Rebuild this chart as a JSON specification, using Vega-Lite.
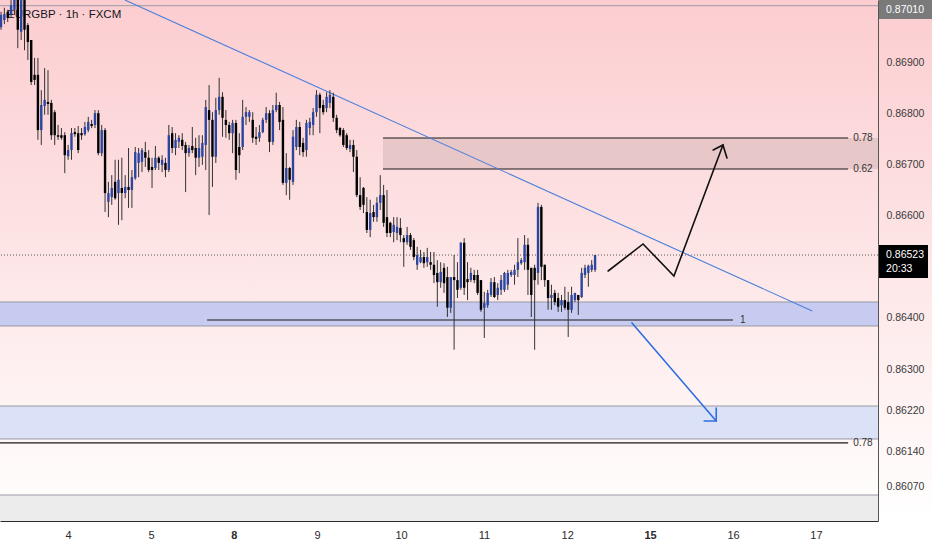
{
  "$schema": "https://vega.github.io/schema/vega-lite/v6.json",
  "width": 878,
  "height": 521,
  "autosize": {"type": "none"},
  "padding": {"left": 0, "top": 0, "right": 54, "bottom": 29},
  "background": "#ffffff",
  "config": {"view": {"stroke": null}, "font": "Liberation Sans"},
  "resolve": {"axis": {"x": "independent", "y": "independent"}},
  "datasets": {
    "candles": [
      {"i":0,"o":0.86968,"h":0.86998,"l":0.86963,"c":0.86992},
      {"i":1,"o":0.86982,"h":0.87006,"l":0.86974,"c":0.86994},
      {"i":2,"o":0.86998,"h":0.87002,"l":0.86978,"c":0.86986},
      {"i":3,"o":0.86992,"h":0.87021,"l":0.86986,"c":0.87011},
      {"i":4,"o":0.87002,"h":0.87041,"l":0.86992,"c":0.87031},
      {"i":5,"o":0.87031,"h":0.87041,"l":0.86927,"c":0.86963},
      {"i":6,"o":0.86959,"h":0.87031,"l":0.86943,"c":0.87021},
      {"i":7,"o":0.87021,"h":0.87031,"l":0.86923,"c":0.86963},
      {"i":8,"o":0.86972,"h":0.86976,"l":0.86904,"c":0.86939},
      {"i":9,"o":0.86943,"h":0.86943,"l":0.86855,"c":0.86861},
      {"i":10,"o":0.86875,"h":0.86908,"l":0.86855,"c":0.86865},
      {"i":11,"o":0.86875,"h":0.86908,"l":0.86748,"c":0.86767},
      {"i":12,"o":0.86767,"h":0.86845,"l":0.86738,"c":0.86816},
      {"i":13,"o":0.86814,"h":0.86888,"l":0.86797,"c":0.86826},
      {"i":14,"o":0.86822,"h":0.86884,"l":0.86797,"c":0.86818},
      {"i":15,"o":0.86820,"h":0.86826,"l":0.86748,"c":0.86757},
      {"i":16,"o":0.86802,"h":0.86806,"l":0.86738,"c":0.86757},
      {"i":17,"o":0.86757,"h":0.86777,"l":0.86748,"c":0.86754},
      {"i":18,"o":0.86757,"h":0.86771,"l":0.86748,"c":0.86752},
      {"i":19,"o":0.86757,"h":0.86763,"l":0.86683,"c":0.86718},
      {"i":20,"o":0.86716,"h":0.86738,"l":0.86709,"c":0.86728},
      {"i":21,"o":0.86728,"h":0.86771,"l":0.86709,"c":0.86761},
      {"i":22,"o":0.86763,"h":0.86771,"l":0.86754,"c":0.86759},
      {"i":23,"o":0.86761,"h":0.86775,"l":0.86722,"c":0.86728},
      {"i":24,"o":0.86761,"h":0.86771,"l":0.86748,"c":0.86757},
      {"i":25,"o":0.86759,"h":0.86783,"l":0.86756,"c":0.86773},
      {"i":26,"o":0.86767,"h":0.86793,"l":0.86763,"c":0.86783},
      {"i":27,"o":0.86779,"h":0.86787,"l":0.86771,"c":0.86775},
      {"i":28,"o":0.86777,"h":0.86806,"l":0.86771,"c":0.86800},
      {"i":29,"o":0.86800,"h":0.86806,"l":0.86718,"c":0.86722},
      {"i":30,"o":0.86722,"h":0.86777,"l":0.86716,"c":0.86767},
      {"i":31,"o":0.86767,"h":0.86771,"l":0.86607,"c":0.86644},
      {"i":32,"o":0.86627,"h":0.86666,"l":0.86597,"c":0.86644},
      {"i":33,"o":0.86636,"h":0.86679,"l":0.86621,"c":0.86654},
      {"i":34,"o":0.86666,"h":0.86709,"l":0.86631,"c":0.86634},
      {"i":35,"o":0.86644,"h":0.86709,"l":0.86582,"c":0.86670},
      {"i":36,"o":0.86654,"h":0.86713,"l":0.86591,"c":0.86644},
      {"i":37,"o":0.86644,"h":0.86679,"l":0.86634,"c":0.86656},
      {"i":38,"o":0.86656,"h":0.86732,"l":0.86615,"c":0.86650},
      {"i":39,"o":0.86650,"h":0.86689,"l":0.86615,"c":0.86675},
      {"i":40,"o":0.86673,"h":0.86734,"l":0.86670,"c":0.86724},
      {"i":41,"o":0.86703,"h":0.86732,"l":0.86675,"c":0.86722},
      {"i":42,"o":0.86705,"h":0.86732,"l":0.86685,"c":0.86728},
      {"i":43,"o":0.86724,"h":0.86744,"l":0.86695,"c":0.86713},
      {"i":44,"o":0.86713,"h":0.86728,"l":0.86685,"c":0.86689},
      {"i":45,"o":0.86695,"h":0.86713,"l":0.86654,"c":0.86689},
      {"i":46,"o":0.86693,"h":0.86736,"l":0.86689,"c":0.86713},
      {"i":47,"o":0.86713,"h":0.86716,"l":0.86689,"c":0.86703},
      {"i":48,"o":0.86699,"h":0.86718,"l":0.86685,"c":0.86709},
      {"i":49,"o":0.86703,"h":0.86713,"l":0.86675,"c":0.86689},
      {"i":50,"o":0.86689,"h":0.86777,"l":0.86685,"c":0.86757},
      {"i":51,"o":0.86761,"h":0.86773,"l":0.86722,"c":0.86732},
      {"i":52,"o":0.86732,"h":0.86761,"l":0.86718,"c":0.86748},
      {"i":53,"o":0.86744,"h":0.86757,"l":0.86732,"c":0.86752},
      {"i":54,"o":0.86748,"h":0.86761,"l":0.86728,"c":0.86736},
      {"i":55,"o":0.86738,"h":0.86744,"l":0.86646,"c":0.86722},
      {"i":56,"o":0.86722,"h":0.86738,"l":0.86715,"c":0.86732},
      {"i":57,"o":0.86736,"h":0.86773,"l":0.86722,"c":0.86728},
      {"i":58,"o":0.86732,"h":0.86752,"l":0.86679,"c":0.86713},
      {"i":59,"o":0.86713,"h":0.86757,"l":0.86695,"c":0.86732},
      {"i":60,"o":0.86715,"h":0.86757,"l":0.86699,"c":0.86742},
      {"i":61,"o":0.86738,"h":0.86826,"l":0.86689,"c":0.86812},
      {"i":62,"o":0.86806,"h":0.86855,"l":0.86601,"c":0.86787},
      {"i":63,"o":0.86787,"h":0.86802,"l":0.86656,"c":0.86715},
      {"i":64,"o":0.86715,"h":0.86830,"l":0.86703,"c":0.86806},
      {"i":65,"o":0.86806,"h":0.86869,"l":0.86797,"c":0.86832},
      {"i":66,"o":0.86832,"h":0.86841,"l":0.86754,"c":0.86791},
      {"i":67,"o":0.86787,"h":0.86806,"l":0.86752,"c":0.86777},
      {"i":68,"o":0.86777,"h":0.86783,"l":0.86748,"c":0.86761},
      {"i":69,"o":0.86761,"h":0.86787,"l":0.86722,"c":0.86781},
      {"i":70,"o":0.86781,"h":0.86787,"l":0.86670,"c":0.86689},
      {"i":71,"o":0.86734,"h":0.86761,"l":0.86683,"c":0.86718},
      {"i":72,"o":0.86734,"h":0.86826,"l":0.86728,"c":0.86793},
      {"i":73,"o":0.86793,"h":0.86812,"l":0.86777,"c":0.86802},
      {"i":74,"o":0.86793,"h":0.86806,"l":0.86783,"c":0.86802},
      {"i":75,"o":0.86787,"h":0.86802,"l":0.86742,"c":0.86752},
      {"i":76,"o":0.86754,"h":0.86773,"l":0.86738,"c":0.86750},
      {"i":77,"o":0.86752,"h":0.86777,"l":0.86744,"c":0.86763},
      {"i":78,"o":0.86763,"h":0.86791,"l":0.86761,"c":0.86787},
      {"i":79,"o":0.86787,"h":0.86812,"l":0.86781,"c":0.86800},
      {"i":80,"o":0.86800,"h":0.86806,"l":0.86724,"c":0.86744},
      {"i":81,"o":0.86744,"h":0.86816,"l":0.86738,"c":0.86806},
      {"i":82,"o":0.86806,"h":0.86840,"l":0.86802,"c":0.86816},
      {"i":83,"o":0.86816,"h":0.86822,"l":0.86767,"c":0.86783},
      {"i":84,"o":0.86787,"h":0.86812,"l":0.86660,"c":0.86664},
      {"i":85,"o":0.86664,"h":0.86722,"l":0.86640,"c":0.86693},
      {"i":86,"o":0.86693,"h":0.86695,"l":0.86631,"c":0.86670},
      {"i":87,"o":0.86666,"h":0.86767,"l":0.86660,"c":0.86754},
      {"i":88,"o":0.86734,"h":0.86787,"l":0.86728,"c":0.86773},
      {"i":89,"o":0.86773,"h":0.86783,"l":0.86718,"c":0.86734},
      {"i":90,"o":0.86742,"h":0.86752,"l":0.86715,"c":0.86724},
      {"i":91,"o":0.86728,"h":0.86787,"l":0.86715,"c":0.86781},
      {"i":92,"o":0.86771,"h":0.86791,"l":0.86757,"c":0.86783},
      {"i":93,"o":0.86777,"h":0.86810,"l":0.86757,"c":0.86802},
      {"i":94,"o":0.86802,"h":0.86845,"l":0.86793,"c":0.86836},
      {"i":95,"o":0.86836,"h":0.86840,"l":0.86761,"c":0.86810},
      {"i":96,"o":0.86816,"h":0.86826,"l":0.86797,"c":0.86802},
      {"i":97,"o":0.86810,"h":0.86841,"l":0.86802,"c":0.86832},
      {"i":98,"o":0.86820,"h":0.86845,"l":0.86810,"c":0.86836},
      {"i":99,"o":0.86832,"h":0.86840,"l":0.86783,"c":0.86791},
      {"i":100,"o":0.86791,"h":0.86797,"l":0.86761,"c":0.86767},
      {"i":101,"o":0.86771,"h":0.86773,"l":0.86754,"c":0.86757},
      {"i":102,"o":0.86767,"h":0.86771,"l":0.86734,"c":0.86738},
      {"i":103,"o":0.86757,"h":0.86761,"l":0.86728,"c":0.86732},
      {"i":104,"o":0.86730,"h":0.86748,"l":0.86724,"c":0.86738},
      {"i":105,"o":0.86738,"h":0.86748,"l":0.86685,"c":0.86715},
      {"i":106,"o":0.86715,"h":0.86728,"l":0.86636,"c":0.86640},
      {"i":107,"o":0.86640,"h":0.86675,"l":0.86611,"c":0.86617},
      {"i":108,"o":0.86654,"h":0.86656,"l":0.86605,"c":0.86621},
      {"i":109,"o":0.86607,"h":0.86636,"l":0.86566,"c":0.86572},
      {"i":110,"o":0.86572,"h":0.86631,"l":0.86558,"c":0.86605},
      {"i":111,"o":0.86607,"h":0.86621,"l":0.86588,"c":0.86597},
      {"i":112,"o":0.86597,"h":0.86636,"l":0.86588,"c":0.86625},
      {"i":113,"o":0.86625,"h":0.86679,"l":0.86611,"c":0.86640},
      {"i":114,"o":0.86640,"h":0.86660,"l":0.86578,"c":0.86586},
      {"i":115,"o":0.86597,"h":0.86650,"l":0.86558,"c":0.86566},
      {"i":116,"o":0.86586,"h":0.86588,"l":0.86558,"c":0.86566},
      {"i":117,"o":0.86568,"h":0.86597,"l":0.86548,"c":0.86582},
      {"i":118,"o":0.86566,"h":0.86597,"l":0.86552,"c":0.86578},
      {"i":119,"o":0.86576,"h":0.86595,"l":0.86548,"c":0.86562},
      {"i":120,"o":0.86556,"h":0.86562,"l":0.86500,"c":0.86548},
      {"i":121,"o":0.86548,"h":0.86578,"l":0.86543,"c":0.86562},
      {"i":122,"o":0.86562,"h":0.86566,"l":0.86533,"c":0.86539},
      {"i":123,"o":0.86552,"h":0.86556,"l":0.86513,"c":0.86519},
      {"i":124,"o":0.86504,"h":0.86539,"l":0.86494,"c":0.86523},
      {"i":125,"o":0.86509,"h":0.86533,"l":0.86507,"c":0.86519},
      {"i":126,"o":0.86519,"h":0.86529,"l":0.86498,"c":0.86507},
      {"i":127,"o":0.86509,"h":0.86537,"l":0.86500,"c":0.86519},
      {"i":128,"o":0.86509,"h":0.86529,"l":0.86494,"c":0.86504},
      {"i":129,"o":0.86504,"h":0.86529,"l":0.86468,"c":0.86484},
      {"i":130,"o":0.86488,"h":0.86513,"l":0.86422,"c":0.86470},
      {"i":131,"o":0.86470,"h":0.86509,"l":0.86459,"c":0.86490},
      {"i":132,"o":0.86498,"h":0.86507,"l":0.86449,"c":0.86468},
      {"i":133,"o":0.86480,"h":0.86500,"l":0.86402,"c":0.86420},
      {"i":134,"o":0.86420,"h":0.86480,"l":0.86410,"c":0.86480},
      {"i":135,"o":0.86480,"h":0.86523,"l":0.86338,"c":0.86474},
      {"i":136,"o":0.86474,"h":0.86509,"l":0.86439,"c":0.86455},
      {"i":137,"o":0.86459,"h":0.86548,"l":0.86455,"c":0.86547},
      {"i":138,"o":0.86547,"h":0.86556,"l":0.86445,"c":0.86459},
      {"i":139,"o":0.86476,"h":0.86509,"l":0.86435,"c":0.86470},
      {"i":140,"o":0.86474,"h":0.86498,"l":0.86470,"c":0.86488},
      {"i":141,"o":0.86484,"h":0.86494,"l":0.86468,"c":0.86474},
      {"i":142,"o":0.86484,"h":0.86494,"l":0.86445,"c":0.86449},
      {"i":143,"o":0.86474,"h":0.86474,"l":0.86412,"c":0.86416},
      {"i":144,"o":0.86420,"h":0.86451,"l":0.86361,"c":0.86429},
      {"i":145,"o":0.86425,"h":0.86455,"l":0.86420,"c":0.86449},
      {"i":146,"o":0.86445,"h":0.86478,"l":0.86441,"c":0.86470},
      {"i":147,"o":0.86470,"h":0.86480,"l":0.86439,"c":0.86441},
      {"i":148,"o":0.86445,"h":0.86468,"l":0.86435,"c":0.86459},
      {"i":149,"o":0.86455,"h":0.86484,"l":0.86445,"c":0.86474},
      {"i":150,"o":0.86455,"h":0.86490,"l":0.86451,"c":0.86488},
      {"i":151,"o":0.86465,"h":0.86494,"l":0.86455,"c":0.86488},
      {"i":152,"o":0.86484,"h":0.86494,"l":0.86480,"c":0.86490},
      {"i":153,"o":0.86484,"h":0.86504,"l":0.86465,"c":0.86494},
      {"i":154,"o":0.86494,"h":0.86556,"l":0.86480,"c":0.86509},
      {"i":155,"o":0.86507,"h":0.86517,"l":0.86504,"c":0.86513},
      {"i":156,"o":0.86509,"h":0.86562,"l":0.86494,"c":0.86543},
      {"i":157,"o":0.86543,"h":0.86556,"l":0.86445,"c":0.86494},
      {"i":158,"o":0.86498,"h":0.86498,"l":0.86402,"c":0.86445},
      {"i":159,"o":0.86498,"h":0.86504,"l":0.86338,"c":0.86474},
      {"i":160,"o":0.86488,"h":0.86625,"l":0.86465,"c":0.86617},
      {"i":161,"o":0.86617,"h":0.86621,"l":0.86474,"c":0.86500},
      {"i":162,"o":0.86504,"h":0.86504,"l":0.86461,"c":0.86474},
      {"i":163,"o":0.86474,"h":0.86474,"l":0.86416,"c":0.86439},
      {"i":164,"o":0.86439,"h":0.86465,"l":0.86416,"c":0.86445},
      {"i":165,"o":0.86449,"h":0.86455,"l":0.86425,"c":0.86431},
      {"i":166,"o":0.86439,"h":0.86449,"l":0.86412,"c":0.86422},
      {"i":167,"o":0.86425,"h":0.86445,"l":0.86412,"c":0.86435},
      {"i":168,"o":0.86435,"h":0.86461,"l":0.86416,"c":0.86420},
      {"i":169,"o":0.86431,"h":0.86451,"l":0.86363,"c":0.86416},
      {"i":170,"o":0.86416,"h":0.86461,"l":0.86410,"c":0.86445},
      {"i":171,"o":0.86435,"h":0.86449,"l":0.86431,"c":0.86449},
      {"i":172,"o":0.86445,"h":0.86445,"l":0.86406,"c":0.86435},
      {"i":173,"o":0.86441,"h":0.86498,"l":0.86439,"c":0.86488},
      {"i":174,"o":0.86484,"h":0.86504,"l":0.86478,"c":0.86498},
      {"i":175,"o":0.86488,"h":0.86504,"l":0.86461,"c":0.86502},
      {"i":176,"o":0.86494,"h":0.86513,"l":0.86490,"c":0.86504},
      {"i":177,"o":0.86494,"h":0.86523,"l":0.86490,"c":0.86523}
    ]
  },
  "layer": [
    {
      "data": {"values": [{"x1": -0.3, "x2": 277.4, "y1": 0.860035, "y2": 0.870211}]},
      "mark": {
        "type": "rect",
        "clip": false,
        "fill": {
          "gradient": "linear", "x1": 0, "y1": 0, "x2": 0, "y2": 1,
          "stops": [
            {"offset": 0, "color": "#fccdd0"},
            {"offset": 0.45, "color": "#fde3e4"},
            {"offset": 0.85, "color": "#fff7f7"},
            {"offset": 1, "color": "#ffffff"}
          ]
        }
      },
      "encoding": {
        "x": {"field": "x1", "type": "quantitative", "scale": {"domain": [-0.3, 261.3], "nice": false, "zero": false}, "axis": null},
        "x2": {"field": "x2"},
        "y": {"field": "y1", "type": "quantitative", "scale": {"domain": [0.860035, 0.870211], "nice": false, "zero": false}, "axis": null},
        "y2": {"field": "y2"}
      }
    },
    {
      "data": {"values": [{"y1": 0.860035, "y2": 0.860543}]},
      "mark": {"type": "rect", "color": "#ececec"},
      "encoding": {
        "y": {"field": "y1", "type": "quantitative", "scale": {"domain": [0.860035, 0.870211], "nice": false, "zero": false}, "axis": null},
        "y2": {"field": "y2"}
      }
    },
    {
      "data": {"values": [{"y1": 0.863844, "y2": 0.864313}]},
      "mark": {"type": "rect", "color": "#c6cbef"},
      "encoding": {
        "y": {"field": "y1", "type": "quantitative", "scale": {"domain": [0.860035, 0.870211], "nice": false, "zero": false}, "axis": null},
        "y2": {"field": "y2"}
      }
    },
    {
      "data": {"values": [{"y1": 0.861637, "y2": 0.862281}]},
      "mark": {"type": "rect", "color": "#dbe1f6"},
      "encoding": {
        "y": {"field": "y1", "type": "quantitative", "scale": {"domain": [0.860035, 0.870211], "nice": false, "zero": false}, "axis": null},
        "y2": {"field": "y2"}
      }
    },
    {
      "data": {"values": [{"x1": 113.8, "x2": 261.3, "y1": 0.86691, "y2": 0.867516}]},
      "mark": {"type": "rect", "color": "#e8c7c9"},
      "encoding": {
        "x": {"field": "x1", "type": "quantitative", "scale": {"domain": [-0.3, 261.3], "nice": false, "zero": false}, "axis": null},
        "x2": {"field": "x2"},
        "y": {"field": "y1", "type": "quantitative", "scale": {"domain": [0.860035, 0.870211], "nice": false, "zero": false}, "axis": null},
        "y2": {"field": "y2"}
      }
    },
    {
      "data": {"values": [{"p": 0.8701}, {"p": 0.864313}, {"p": 0.863844}, {"p": 0.862281}, {"p": 0.861637}, {"p": 0.860543}]},
      "mark": {"type": "rule", "color": "#9a9aa6", "strokeWidth": 1},
      "encoding": {
        "y": {"field": "p", "type": "quantitative", "scale": {"domain": [0.860035, 0.870211], "nice": false, "zero": false}, "axis": null}
      }
    },
    {
      "data": {"values": [{"p": 0.86523}]},
      "mark": {"type": "rule", "color": "#5a5a5a", "strokeWidth": 1, "strokeDash": [1, 2]},
      "encoding": {
        "y": {"field": "p", "type": "quantitative", "scale": {"domain": [0.860035, 0.870211], "nice": false, "zero": false}, "axis": null}
      }
    },
    {
      "data": {"values": [
        {"x1": 113.8, "x2": 252.4, "p": 0.867516},
        {"x1": 113.8, "x2": 252.4, "p": 0.86691},
        {"x1": 61.4, "x2": 218.1, "p": 0.863961},
        {"x1": -0.3, "x2": 252.4, "p": 0.861559}
      ]},
      "mark": {"type": "rule", "color": "#1a1a1a", "strokeWidth": 1.2},
      "encoding": {
        "x": {"field": "x1", "type": "quantitative", "scale": {"domain": [-0.3, 261.3], "nice": false, "zero": false}, "axis": null},
        "x2": {"field": "x2"},
        "y": {"field": "p", "type": "quantitative", "scale": {"domain": [0.860035, 0.870211], "nice": false, "zero": false}, "axis": null}
      }
    },
    {
      "data": {"values": [
        {"x": 253.9, "p": 0.867516, "t": "0.78"},
        {"x": 253.9, "p": 0.86691, "t": "0.62"},
        {"x": 253.9, "p": 0.861559, "t": "0.78"},
        {"x": 220.2, "p": 0.863961, "t": "1"}
      ]},
      "mark": {"type": "text", "align": "left", "baseline": "middle", "fontSize": 10, "color": "#333333"},
      "encoding": {
        "x": {"field": "x", "type": "quantitative", "scale": {"domain": [-0.3, 261.3], "nice": false, "zero": false}, "axis": null},
        "y": {"field": "p", "type": "quantitative", "scale": {"domain": [0.860035, 0.870211], "nice": false, "zero": false}, "axis": null},
        "text": {"field": "t"}
      }
    },
    {
      "data": {"values": [{"x": 1.8, "p": 0.869918, "t": "EURGBP · 1h · FXCM"}]},
      "mark": {"type": "text", "align": "left", "baseline": "middle", "fontSize": 11.5, "color": "#131722"},
      "encoding": {
        "x": {"field": "x", "type": "quantitative", "scale": {"domain": [-0.3, 261.3], "nice": false, "zero": false}, "axis": null},
        "y": {"field": "p", "type": "quantitative", "scale": {"domain": [0.860035, 0.870211], "nice": false, "zero": false}, "axis": null},
        "text": {"field": "t"}
      }
    },
    {
      "data": {"values": [{"x": 36.9, "p": 0.870211}, {"x": 241.7, "p": 0.864137}]},
      "mark": {"type": "line", "color": "#4a7fdc", "strokeWidth": 1.1, "clip": true},
      "encoding": {
        "x": {"field": "x", "type": "quantitative", "scale": {"domain": [-0.3, 261.3], "nice": false, "zero": false}, "axis": null},
        "y": {"field": "p", "type": "quantitative", "scale": {"domain": [0.860035, 0.870211], "nice": false, "zero": false}, "axis": null}
      }
    },
    {
      "data": {"values": [
        {"g": "a", "k": 1, "x": 180.9, "p": 0.864918},
        {"g": "a", "k": 2, "x": 191.3, "p": 0.865446},
        {"g": "a", "k": 3, "x": 200.5, "p": 0.864821},
        {"g": "a", "k": 4, "x": 215.1, "p": 0.867379},
        {"g": "b", "k": 1, "x": 212.2, "p": 0.867281},
        {"g": "b", "k": 2, "x": 215.1, "p": 0.867379},
        {"g": "b", "k": 3, "x": 216.3, "p": 0.867125}
      ]},
      "mark": {"type": "line", "color": "#111111", "strokeWidth": 1.6, "strokeCap": "round", "strokeJoin": "miter"},
      "encoding": {
        "x": {"field": "x", "type": "quantitative", "scale": {"domain": [-0.3, 261.3], "nice": false, "zero": false}, "axis": null},
        "y": {"field": "p", "type": "quantitative", "scale": {"domain": [0.860035, 0.870211], "nice": false, "zero": false}, "axis": null},
        "detail": {"field": "g"},
        "order": {"field": "k"}
      }
    },
    {
      "data": {"values": [
        {"g": "a", "k": 1, "x": 188.0, "p": 0.863903},
        {"g": "a", "k": 2, "x": 213.1, "p": 0.861989},
        {"g": "b", "k": 1, "x": 209.5, "p": 0.861989},
        {"g": "b", "k": 2, "x": 213.1, "p": 0.861989},
        {"g": "b", "k": 3, "x": 213.1, "p": 0.862243}
      ]},
      "mark": {"type": "line", "color": "#2f6fe0", "strokeWidth": 1.6, "strokeCap": "round"},
      "encoding": {
        "x": {"field": "x", "type": "quantitative", "scale": {"domain": [-0.3, 261.3], "nice": false, "zero": false}, "axis": null},
        "y": {"field": "p", "type": "quantitative", "scale": {"domain": [0.860035, 0.870211], "nice": false, "zero": false}, "axis": null},
        "detail": {"field": "g"},
        "order": {"field": "k"}
      }
    },
    {
      "data": {"name": "candles"},
      "mark": {"type": "rule", "color": "#333333", "strokeWidth": 1, "clip": true},
      "encoding": {
        "x": {
          "field": "i", "type": "quantitative",
          "scale": {"domain": [-0.3, 261.3], "nice": false, "zero": false},
          "axis": {
            "orient": "bottom", "title": null, "grid": false, "ticks": false, "zindex": 2,
            "values": [19.96, 44.7, 69.4, 94.2, 119.2, 143.9, 168.7, 193.4, 218.1, 242.8],
            "labelExpr": "datum.value < 30 ? '4' : datum.value < 55 ? '5' : datum.value < 80 ? '8' : datum.value < 105 ? '9' : datum.value < 130 ? '10' : datum.value < 155 ? '11' : datum.value < 180 ? '12' : datum.value < 205 ? '15' : datum.value < 230 ? '16' : '17'",
            "labelFontWeight": {"condition": {"test": "(datum.value > 60 && datum.value < 80) || (datum.value > 185 && datum.value < 205)", "value": "bold"}, "value": "normal"},
            "labelFont": "Liberation Sans", "labelFontSize": 11, "labelColor": "#2a2a2a",
            "labelPadding": 8, "labelOverlap": false, "labelFlush": false,
            "domainColor": "#2a2a2a", "domainWidth": 1
          }
        },
        "y": {
          "field": "l", "type": "quantitative",
          "scale": {"domain": [0.860035, 0.870211], "nice": false, "zero": false},
          "axis": {
            "orient": "right", "title": null, "grid": false, "ticks": false, "zindex": 2,
            "values": [0.869, 0.868, 0.867, 0.866, 0.864, 0.863, 0.8622, 0.8614, 0.8607],
            "format": ".5f",
            "labelFont": "Liberation Sans", "labelFontSize": 10.5, "labelColor": "#3a3a3a",
            "labelPadding": 8, "labelOverlap": false, "labelFlush": false,
            "domainColor": "#555555", "domainWidth": 1
          }
        },
        "y2": {"field": "h"}
      }
    },
    {
      "data": {"name": "candles"},
      "mark": {"type": "rule", "strokeWidth": 2.4, "clip": true},
      "encoding": {
        "x": {"field": "i", "type": "quantitative", "scale": {"domain": [-0.3, 261.3], "nice": false, "zero": false}, "axis": null},
        "y": {"field": "o", "type": "quantitative", "scale": {"domain": [0.860035, 0.870211], "nice": false, "zero": false}, "axis": null},
        "y2": {"field": "c"},
        "color": {"condition": {"test": "datum.c > datum.o", "value": "#2c45a0"}, "value": "#000000"}
      }
    },
    {
      "data": {"values": [{"x1": 261.6, "x2": 277.4, "y1": 0.86984, "y2": 0.870211}]},
      "mark": {"type": "rect", "color": "#7a7a7a", "clip": false},
      "encoding": {
        "x": {"field": "x1", "type": "quantitative", "scale": {"domain": [-0.3, 261.3], "nice": false, "zero": false}, "axis": null},
        "x2": {"field": "x2"},
        "y": {"field": "y1", "type": "quantitative", "scale": {"domain": [0.860035, 0.870211], "nice": false, "zero": false}, "axis": null},
        "y2": {"field": "y2"}
      }
    },
    {
      "data": {"values": [{"x1": 261.6, "x2": 276.2, "y1": 0.864781, "y2": 0.865426}]},
      "mark": {"type": "rect", "color": "#000000", "clip": false},
      "encoding": {
        "x": {"field": "x1", "type": "quantitative", "scale": {"domain": [-0.3, 261.3], "nice": false, "zero": false}, "axis": null},
        "x2": {"field": "x2"},
        "y": {"field": "y1", "type": "quantitative", "scale": {"domain": [0.860035, 0.870211], "nice": false, "zero": false}, "axis": null},
        "y2": {"field": "y2"}
      }
    },
    {
      "data": {"values": [
        {"x": 263.7, "p": 0.870016, "t": "0.87010", "w": "b"},
        {"x": 263.7, "p": 0.86523, "t": "0.86523", "w": "b"},
        {"x": 263.7, "p": 0.864957, "t": "20:33", "w": "n"}
      ]},
      "mark": {"type": "text", "align": "left", "baseline": "middle", "fontSize": 10.5, "color": "#ffffff", "clip": false},
      "encoding": {
        "x": {"field": "x", "type": "quantitative", "scale": {"domain": [-0.3, 261.3], "nice": false, "zero": false}, "axis": null},
        "y": {"field": "p", "type": "quantitative", "scale": {"domain": [0.860035, 0.870211], "nice": false, "zero": false}, "axis": null},
        "text": {"field": "t"},
        "fontWeight": {"condition": {"test": "datum.w == 'b'", "value": "bold"}, "value": "normal"}
      }
    }
  ]
}
